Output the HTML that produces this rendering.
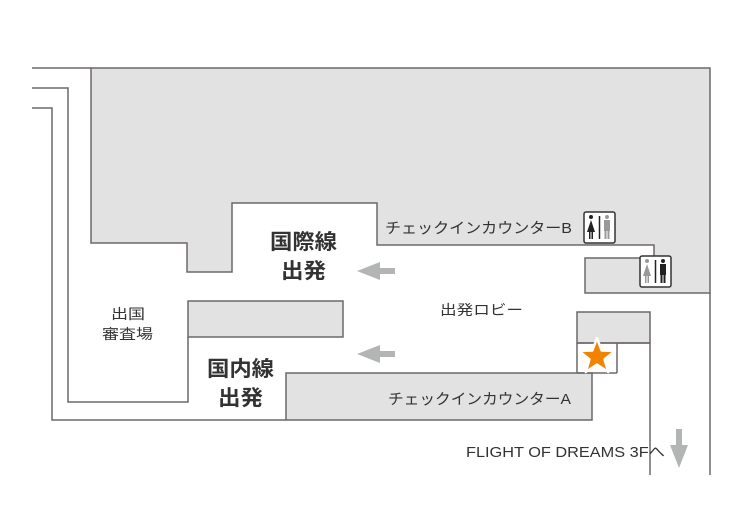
<!DOCTYPE html>
<html><head><meta charset="utf-8"><style>
body{margin:0;background:#fff}
svg text{font-family:"Liberation Sans","Noto Sans CJK JP",sans-serif;fill:#333}
</style></head><body>
<svg width="750" height="525" viewBox="0 0 750 525" xmlns="http://www.w3.org/2000/svg">
<g fill="none" stroke="#6e6868" stroke-width="1.5">
<polyline points="32,68 91,68"/>
<polyline points="32,88 68,88 68,402 188,402 188,337"/>
<polyline points="32,108 52,108 52,420 286,420"/>
<line x1="710" y1="293" x2="710" y2="475"/>
<line x1="650" y1="343" x2="650" y2="475"/>
</g>
<g fill="#e2e2e2" stroke="#6e6868" stroke-width="1.5">
<polygon points="91,68 710,68 710,293 585,293 585,258 654,258 654,245 377,245 377,203 232,203 232,272 187,272 187,243 91,243"/>
<rect x="188" y="301" width="155" height="36"/>
<rect x="577" y="312" width="73" height="31"/>
<polygon points="286,373 592,373 592,420 286,420"/>
</g>
<rect x="578" y="344" width="38" height="28" fill="#fff"/>
<g stroke="#6e6868" stroke-width="1.5">
<line x1="577" y1="343" x2="577" y2="373"/>
<line x1="617" y1="343" x2="617" y2="373"/>
<line x1="577" y1="343" x2="650" y2="343"/>
<line x1="577" y1="373" x2="617" y2="373"/>
</g>
<g fill="#b3b5b5">
<rect x="372" y="268" width="23" height="6"/><polygon points="357,271 380,262 380,280"/>
<rect x="372" y="351" width="23" height="6"/><polygon points="357,354 380,345 380,363"/>
<rect x="676" y="429" width="6" height="20"/><polygon points="670,445 688,445 679,468"/>
</g>
<g>
<rect x="584" y="212" width="31" height="31" fill="#fff" stroke="#333" stroke-width="1.5" rx="2"/>
<line x1="599.5" y1="216" x2="599.5" y2="239" stroke="#222" stroke-width="1.5"/>
<circle cx="591" cy="217" r="2" fill="#222"/><polygon points="591,220 587,232 595,232" fill="#222"/><rect x="589" y="231" width="1.5" height="8" fill="#222"/><rect x="591.5" y="231" width="1.5" height="8" fill="#222"/>
<circle cx="607" cy="217" r="2" fill="#999"/><rect x="604" y="220" width="6" height="11" fill="#999"/><rect x="604.5" y="230" width="2" height="9" fill="#999"/><rect x="607.5" y="230" width="2" height="9" fill="#999"/>
<rect x="640" y="256" width="31" height="31" fill="#fff" stroke="#333" stroke-width="1.5" rx="2"/>
<line x1="655.5" y1="260" x2="655.5" y2="283" stroke="#222" stroke-width="1.5"/>
<circle cx="647" cy="261" r="2" fill="#999"/><polygon points="647,264 643,276 651,276" fill="#999"/><rect x="645" y="275" width="1.5" height="8" fill="#999"/><rect x="647.5" y="275" width="1.5" height="8" fill="#999"/>
<circle cx="663" cy="261" r="2" fill="#222"/><rect x="660" y="264" width="6" height="11" fill="#222"/><rect x="660.5" y="274" width="2" height="9" fill="#222"/><rect x="663.5" y="274" width="2" height="9" fill="#222"/>
</g>
<polygon points="597,338 601.6,350.5 615,351 604.5,359.3 608.2,372 597,364.6 585.8,372 589.5,359.3 579,351 592.4,350.5" fill="#f08300" stroke="#fff" stroke-width="2.5" stroke-linejoin="round"/>
<g font-size="21" font-weight="bold">
<text x="270" y="249" textLength="67" lengthAdjust="spacingAndGlyphs">国際線</text><text x="281" y="278" textLength="45" lengthAdjust="spacingAndGlyphs">出発</text>
<text x="207" y="376" textLength="67" lengthAdjust="spacingAndGlyphs">国内線</text><text x="218" y="405" textLength="45" lengthAdjust="spacingAndGlyphs">出発</text>
</g>
<g font-size="14">
<text x="111" y="319" textLength="34" lengthAdjust="spacingAndGlyphs">出国</text><text x="102" y="339" textLength="51" lengthAdjust="spacingAndGlyphs">審査場</text>
<text x="440" y="315" textLength="83" lengthAdjust="spacingAndGlyphs">出発ロビー</text>
</g>
<text x="385" y="233" font-size="15" textLength="187" lengthAdjust="spacingAndGlyphs">チェックインカウンターB</text>
<text x="388" y="404" font-size="15" textLength="183" lengthAdjust="spacingAndGlyphs">チェックインカウンターA</text>
<text x="466" y="457" font-size="14.5" fill="#444" textLength="199" lengthAdjust="spacingAndGlyphs">FLIGHT OF DREAMS 3Fへ</text>
</svg>
</body></html>
